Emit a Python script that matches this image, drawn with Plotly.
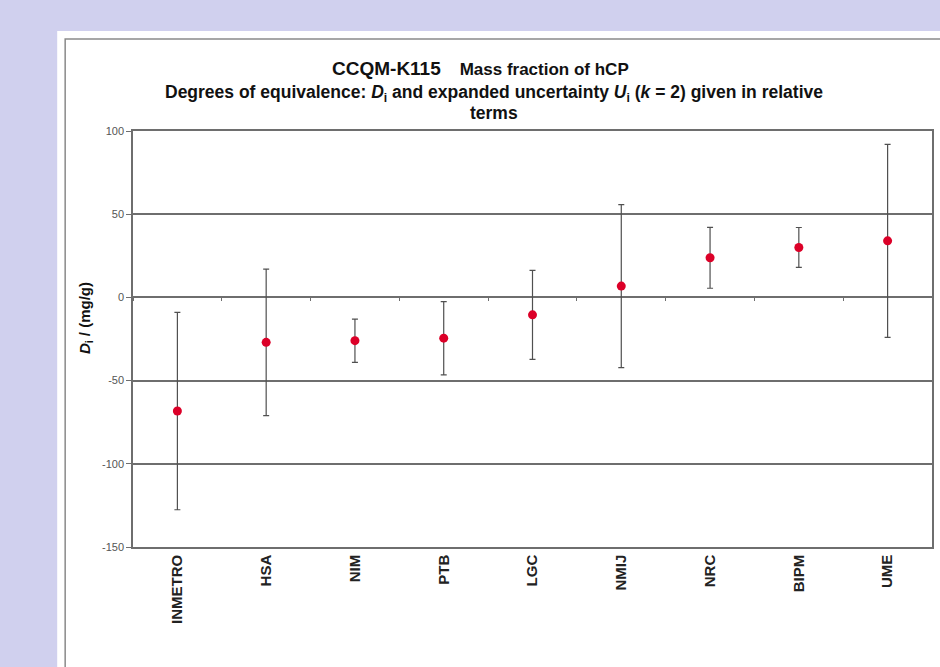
import plotly.graph_objects as go

labs = ["INMETRO", "HSA", "NIM", "PTB", "LGC", "NMIJ", "NRC", "BIPM", "UME"]
d_vals = [-68.3, -27.0, -26.0, -24.5, -10.5, 6.8, 23.8, 30.0, 34.0]
u_vals = [59.3, 44.0, 13.0, 22.0, 26.7, 49.0, 18.3, 12.0, 58.0]
y_ticks = [-150, -100, -50, 0, 50, 100]
y_tick_text = [str(v) for v in y_ticks]

FONT = "Liberation Sans, Arial, sans-serif"
L, R, T, B = 133, 6, 131, 120
W, H = 940, 667
pw, ph = W - L - R, H - T - B

def px(x):
    return (x - L) / pw

def py(y):
    return (H - B - y) / ph

fig = go.Figure()
fig.add_trace(go.Scatter(
    x=labs, y=d_vals, mode="markers",
    marker=dict(symbol="circle", size=9, color="#dc0028"),
    error_y=dict(type="data", array=u_vals, visible=True,
                 color="#505050", thickness=1.2, width=3),
    showlegend=False, hoverinfo="x+y",
))
fig.add_trace(go.Scatter(x=labs, y=[None] * len(labs), xaxis="x2",
                         showlegend=False, hoverinfo="skip"))

grid = "#6e6e6e"
fig.update_layout(
    width=W, height=H,
    margin=dict(l=L, r=R, t=T, b=B),
    paper_bgcolor="#d0d0ee", plot_bgcolor="white",
    font=dict(family=FONT, color="#222"),
    xaxis=dict(type="category", categoryarray=labs, range=[-0.5, 8.5],
               showgrid=False, tickangle=-90, ticks="",
               tickfont=dict(size=15, family=FONT, color="#222", weight="bold"),
               showline=True, linecolor=grid, linewidth=1.5, mirror=True,
               zeroline=False),
    xaxis2=dict(type="category", categoryarray=labs, range=[-0.5, 8.5],
                overlaying="x", anchor="free", position=150 / 250,
                tickson="boundaries", ticks="outside", ticklen=3, tickcolor=grid,
                showticklabels=False, showgrid=False, showline=False, zeroline=False),
    yaxis=dict(range=[-150, 100], tickvals=y_ticks, ticktext=y_tick_text,
               showgrid=True, gridcolor=grid, gridwidth=1.5, zeroline=False,
               ticks="outside", ticklen=5, tickcolor=grid,
               tickfont=dict(size=11, color="#555"),
               showline=True, linecolor=grid, linewidth=1.5, mirror=True),
    shapes=[
        dict(type="rect", xref="paper", yref="paper", layer="below",
             x0=px(57), x1=px(1000), y0=py(31), y1=py(760),
             fillcolor="white", line=dict(width=0)),
        dict(type="rect", xref="paper", yref="paper", layer="below",
             x0=px(65), x1=px(1000), y0=py(39), y1=py(760),
             fillcolor="rgba(0,0,0,0)", line=dict(color="#8a8a8a", width=1.5)),
    ],
    annotations=[
        dict(xref="paper", yref="paper", x=px(481), y=py(68), showarrow=False,
             xanchor="center", yanchor="middle",
             text="<span style='font-size:19px'>CCQM-K115</span>    Mass fraction of hCP",
             font=dict(size=17, family=FONT, color="#111", weight="bold")),
        dict(xref="paper", yref="paper", x=px(495), y=py(93), showarrow=False,
             xanchor="center", yanchor="middle",
             text="Degrees of equivalence: <i>D</i><sub>i</sub> and expanded uncertainty <i>U</i><sub>i</sub> (<i>k</i> = 2) given in relative",
             font=dict(size=17.5, family=FONT, color="#111", weight="bold")),
        dict(xref="paper", yref="paper", x=px(495), y=py(113), showarrow=False,
             xanchor="center", yanchor="middle",
             text="terms",
             font=dict(size=17.5, family=FONT, color="#111", weight="bold")),
        dict(xref="paper", yref="paper", x=px(85), y=py(318), showarrow=False,
             xanchor="center", yanchor="middle", textangle=-90,
             text="<i>D</i><sub>i</sub> / (mg/g)",
             font=dict(size=15, family=FONT, color="#111", weight="bold")),
    ],
)

fig.write_html("out.html", config={"displayModeBar": False},
               post_script="document.body.style.margin='0';")
